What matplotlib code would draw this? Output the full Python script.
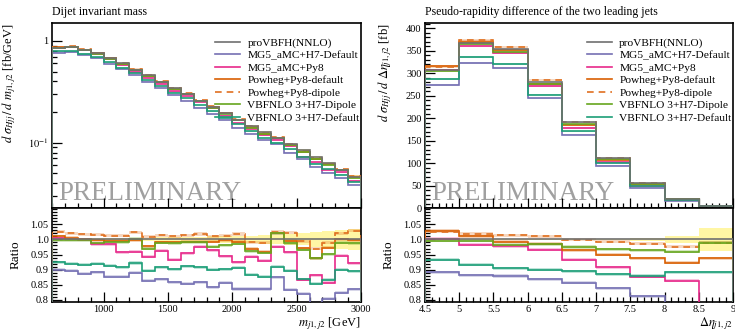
import numpy as np
import matplotlib
matplotlib.use("Agg")
import matplotlib.pyplot as plt
from matplotlib.ticker import MultipleLocator, FixedLocator, FixedFormatter, FuncFormatter, LogLocator, NullFormatter

plt.rcParams['font.family'] = ['Liberation Serif', 'DejaVu Serif']
plt.rcParams['mathtext.fontset'] = 'stix'

# ---------------- data ----------------
series_names = ["proVBFH(NNLO)", "MG5_aMC+H7-Default", "MG5_aMC+Py8", "Powheg+Py8-default",
                "Powheg+Py8-dipole", "VBFNLO 3+H7-Dipole", "VBFNLO 3+H7-Default"]

# Dijet invariant mass
mjj_edges = [600, 700, 800, 900, 1000, 1100, 1200, 1300, 1400, 1500, 1600, 1700, 1800,
             1900, 2000, 2100, 2200, 2300, 2400, 2500, 2600, 2700, 2800, 2900, 3000]
mjj_ref = [0.855, 0.865, 0.820, 0.758, 0.675, 0.600, 0.520, 0.462, 0.396, 0.343, 0.302, 0.258,
           0.226, 0.195, 0.168, 0.146, 0.127, 0.110, 0.096, 0.084, 0.073, 0.063, 0.054, 0.046]
mjj_ref_unc = [0.003, 0.003, 0.004, 0.004, 0.005, 0.005, 0.006, 0.006, 0.007, 0.008, 0.008, 0.009,
               0.010, 0.011, 0.012, 0.013, 0.014, 0.016, 0.018, 0.020, 0.024, 0.027, 0.030, 0.035]
mjj_r_mg5h7 = [0.899, 0.896, 0.887, 0.892, 0.876, 0.876, 0.890, 0.864, 0.869, 0.858, 0.853, 0.858,
               0.842, 0.857, 0.836, 0.836, 0.836, 0.875, 0.833, 0.821, 0.790, 0.803, 0.824, 0.835]
mjj_r_mg5py8 = [1.004, 1.000, 0.999, 0.984, 0.984, 0.958, 0.959, 0.942, 0.962, 0.933, 0.955, 0.976,
                0.965, 0.945, 0.924, 0.943, 0.929, 0.976, 0.957, 0.866, 0.881, 0.857, 0.946, 0.921]
mjj_r_pwgdef = [1.010, 1.006, 1.000, 0.998, 0.996, 0.995, 0.997, 0.977, 0.990, 0.990, 0.993, 0.993,
                0.993, 0.998, 0.993, 0.969, 0.960, 1.020, 0.996, 0.971, 0.938, 0.972, 1.000, 0.998]
mjj_r_pwgdip = [1.025, 1.020, 1.017, 1.015, 1.013, 1.013, 1.023, 1.009, 1.014, 1.010, 1.014, 1.018,
                1.011, 1.012, 1.018, 0.990, 0.989, 1.025, 1.022, 0.994, 0.970, 0.989, 1.020, 1.029]
mjj_r_vbfdip = [0.998, 0.998, 0.997, 0.988, 0.990, 0.990, 1.003, 0.970, 0.989, 0.987, 0.990, 0.991,
                0.976, 0.981, 0.985, 0.961, 0.956, 1.020, 0.987, 0.966, 0.938, 0.951, 0.989, 0.987]
mjj_r_vbfdef = [0.925, 0.920, 0.917, 0.919, 0.913, 0.908, 0.922, 0.896, 0.908, 0.901, 0.912, 0.908,
                0.899, 0.902, 0.906, 0.883, 0.877, 0.910, 0.896, 0.868, 0.853, 0.866, 0.899, 0.894]

# Pseudo-rapidity difference
deta_edges = [4.5, 5.0, 5.5, 6.0, 6.5, 7.0, 7.5, 8.0, 8.5, 9.0]
deta_ref = [307, 367, 354, 281, 191, 112, 56, 21, 4.5]
deta_ref_unc = [0.002, 0.002, 0.002, 0.002, 0.002, 0.003, 0.005, 0.012, 0.037]
deta_r_mg5h7 = [0.891, 0.881, 0.879, 0.868, 0.856, 0.839, 0.812, 0.790, 0.780]
deta_r_mg5py8 = [1.002, 0.982, 0.978, 0.966, 0.932, 0.908, 0.876, 0.863, 0.780]
deta_r_pwgdef = [1.029, 1.010, 0.993, 0.985, 0.964, 0.949, 0.938, 0.923, 0.938]
deta_r_pwgdip = [1.025, 1.018, 1.014, 1.011, 0.999, 0.993, 0.986, 0.976, 0.989]
deta_r_vbfdip = [0.996, 0.995, 0.983, 0.984, 0.975, 0.967, 0.964, 0.960, 0.989]
deta_r_vbfdef = [0.933, 0.916, 0.905, 0.899, 0.894, 0.885, 0.879, 0.892, 0.892]

colors = ["#707070", "#7570b3", "#e7298a", "#d95f02", "#e07020", "#66a61e", "#1b9e77"]
styles = ["-", "-", "-", "-", (0, (4, 3)), "-", "-"]

# ---------------- figure ----------------
W, H = 735, 331
fig = plt.figure(figsize=(W / 100, H / 100), dpi=100)

def fax(x0, y0, x1, y1):
    return fig.add_axes([x0 / W, 1 - y1 / H, (x1 - x0) / W, (y1 - y0) / H])

axL = fax(52, 23, 361, 208)
axLr = fax(52, 208, 361, 302)
axR = fax(425, 23, 733, 208)
axRr = fax(425, 208, 733, 302)

def style_axes(ax):
    ax.tick_params(which='both', direction='in', top=False, right=False, labelsize=7.5, width=0.9, pad=2.5)
    ax.tick_params(which='major', length=7)
    ax.tick_params(which='minor', length=3.5)
    for s in ax.spines.values():
        s.set_linewidth(1.2)

def draw_panel(ax, axr, edges, ref, ref_unc, ratios):
    edges = np.asarray(edges, float)
    ref = np.asarray(ref, float)
    ref_unc = np.asarray(ref_unc, float)
    axr.stairs(1 + ref_unc, edges, baseline=1 - ref_unc, fill=True, color="#fff59a", alpha=0.9, lw=0)
    ax.stairs(ref * (1 + ref_unc), edges, baseline=ref * (1 - ref_unc), fill=True, color="#fff59a", alpha=0.9, lw=0)
    for i, name in enumerate(series_names):
        r = np.ones_like(ref) if i == 0 else np.asarray(ratios[i - 1], float)
        vals = ref * r
        if i > 0:
            band = 0.005
            ax.stairs(vals * (1 + band * 1.6), edges, baseline=vals * (1 - band * 1.6), fill=True,
                      color=colors[i], alpha=0.28, lw=0)
            axr.stairs(r + band, edges, baseline=r - band, fill=True, color=colors[i], alpha=0.28, lw=0)
        ax.stairs(vals, edges, color=colors[i], lw=1.2, ls=styles[i], label=name,
                  zorder=3 if i else 4)
        axr.stairs(r, edges, color=colors[i], lw=1.2, ls=styles[i], zorder=3 if i else 4)

ratiosL = [mjj_r_mg5h7, mjj_r_mg5py8, mjj_r_pwgdef, mjj_r_pwgdip, mjj_r_vbfdip, mjj_r_vbfdef]
ratiosR = [deta_r_mg5h7, deta_r_mg5py8, deta_r_pwgdef, deta_r_pwgdip, deta_r_vbfdip, deta_r_vbfdef]

draw_panel(axL, axLr, mjj_edges, mjj_ref, mjj_ref_unc, ratiosL)
draw_panel(axR, axRr, deta_edges, deta_ref, deta_ref_unc, ratiosR)

for ax in (axL, axLr, axR, axRr):
    style_axes(ax)

ratio_ticks = [0.8, 0.85, 0.9, 0.95, 1.0, 1.05]
ratio_labels = ["0.8", "0.85", "0.9", "0.95", "1.0", "1.05"]

# Left top
axL.set_yscale('log')
axL.set_xlim(600, 3000)
axL.set_ylim(0.0228, 1.50)
axL.yaxis.set_major_locator(FixedLocator([0.1, 1.0]))
axL.yaxis.set_major_formatter(FixedFormatter([r"$10^{-1}$", "1"]))
axL.yaxis.set_minor_locator(LogLocator(base=10, subs=np.arange(2, 10)))
axL.yaxis.set_minor_formatter(NullFormatter())
axL.xaxis.set_major_locator(MultipleLocator(500))
axL.xaxis.set_minor_locator(MultipleLocator(100))
axL.tick_params(labelbottom=False)
axL.set_ylabel(r"$d\ \sigma_{Hjj}\,/\,d\ m_{j1,j2}$ [fb/GeV]", fontsize=9, loc='top')
axL.yaxis.set_label_coords(-0.11, 1.0)

# Left ratio
axLr.set_xlim(600, 3000)
axLr.set_ylim(0.793, 1.104)
axLr.xaxis.set_major_locator(MultipleLocator(500))
axLr.xaxis.set_minor_locator(MultipleLocator(100))
axLr.yaxis.set_major_locator(FixedLocator(ratio_ticks))
axLr.yaxis.set_major_formatter(FixedFormatter(ratio_labels))
axLr.yaxis.set_minor_locator(MultipleLocator(0.01))
axLr.set_ylabel("Ratio", fontsize=9.5)
axLr.yaxis.set_label_coords(-0.097, 0.5)
axLr.set_xlabel(r"$m_{j1,j2}$ [GeV]", fontsize=9, loc='right')
axLr.xaxis.set_label_coords(1.0, -0.145)

# Right top
axR.set_xlim(4.5, 9.0)
axR.set_ylim(0, 412)
axR.yaxis.set_major_locator(MultipleLocator(50))
axR.yaxis.set_minor_locator(MultipleLocator(10))
axR.xaxis.set_major_locator(MultipleLocator(0.5))
axR.xaxis.set_minor_locator(MultipleLocator(0.1))
axR.tick_params(labelbottom=False)
axR.set_ylabel(r"$d\ \sigma_{Hjj}\,/\,d\ \Delta\eta_{j1,j2}$ [fb]", fontsize=9, loc='top')
axR.yaxis.set_label_coords(-0.10, 1.0)

# Right ratio
axRr.set_xlim(4.5, 9.0)
axRr.set_ylim(0.793, 1.104)
axRr.xaxis.set_major_locator(MultipleLocator(0.5))
axRr.xaxis.set_minor_locator(MultipleLocator(0.1))
axRr.xaxis.set_major_formatter(FuncFormatter(lambda v, p: "%g" % v))
axRr.yaxis.set_major_locator(FixedLocator(ratio_ticks))
axRr.yaxis.set_major_formatter(FixedFormatter(ratio_labels))
axRr.yaxis.set_minor_locator(MultipleLocator(0.01))
axRr.set_ylabel("Ratio", fontsize=9.5)
axRr.yaxis.set_label_coords(-0.10, 0.5)
axRr.set_xlabel(r"$\Delta\eta_{j1,j2}$", fontsize=9, loc='right')
axRr.xaxis.set_label_coords(1.0, -0.145)

# Titles
fig.text(52 / W, 1 - 15 / H, "Dijet invariant mass", fontsize=8.5, ha='left', va='baseline')
fig.text(425 / W, 1 - 15 / H, "Pseudo-rapidity difference of the two leading jets", fontsize=8.5,
         ha='left', va='baseline')

# PRELIMINARY
for ax in (axL, axR):
    ax.text(0.02, 0.045, "PRELIMINARY", transform=ax.transAxes, fontsize=19.5, color="#a0a0a0",
            ha='left', va='baseline', zorder=1)

# Legends
for ax in (axL, axR):
    ax.legend(loc='upper right', bbox_to_anchor=(1.01, 0.945), frameon=False, fontsize=8.2,
              handlelength=2.2, handletextpad=0.6, labelspacing=0.22, borderaxespad=0.0)

fig.savefig("out.png", dpi=100)
